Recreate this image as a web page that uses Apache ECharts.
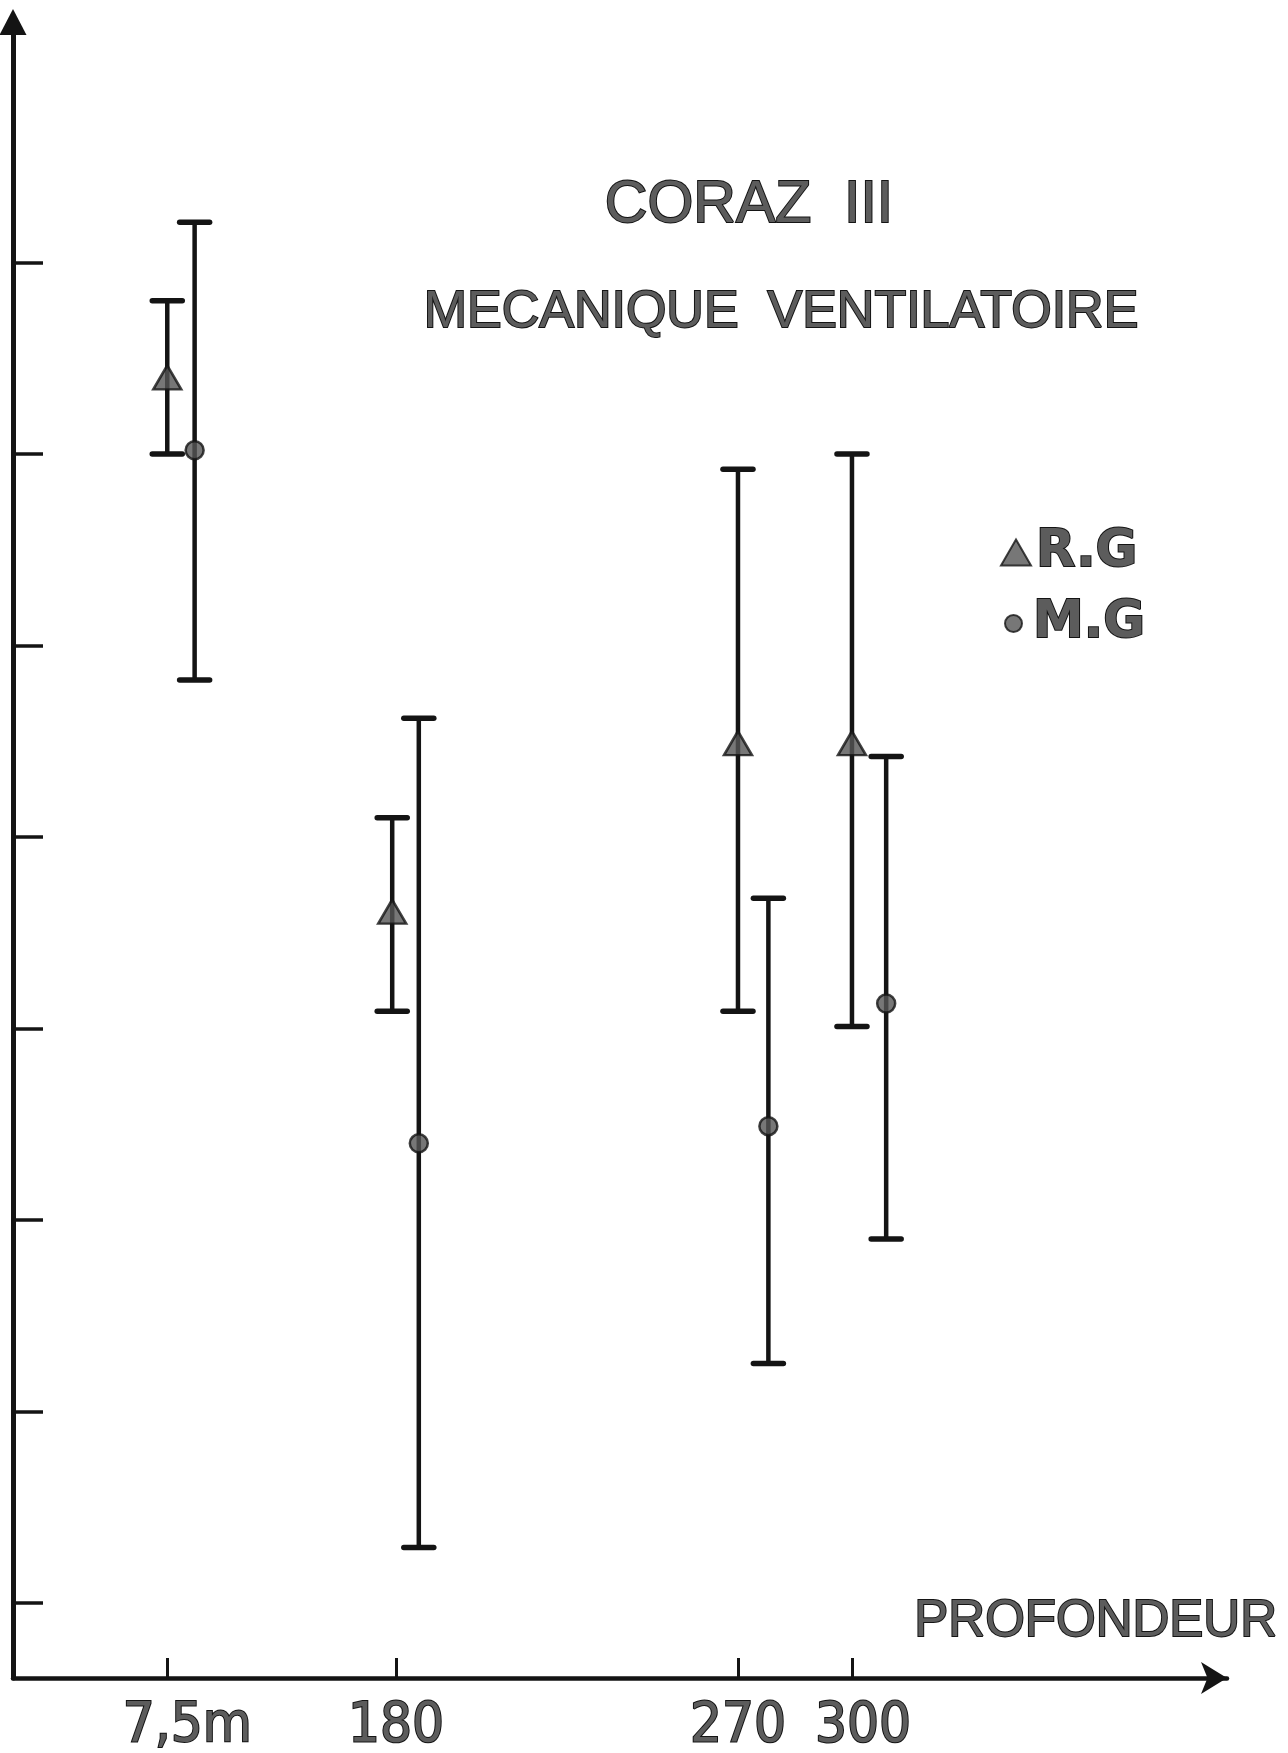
<!DOCTYPE html>
<html>
<head>
<meta charset="utf-8">
<title>CORAZ III - Mecanique ventilatoire</title>
<script src="https://cdn.jsdelivr.net/npm/echarts@6/dist/echarts.min.js"></script>
<style>
  html, body { margin: 0; padding: 0; background: #fff; }
  #chart { width: 1288px; height: 1753px; }
</style>
</head>
<body>
<div id="chart"></div>
<script>
// depth axis is broken below 180 m, so 7,5 m sits at a conventional position
const depthLabels = ['7,5m', '180', '270', '300']
const depthPos = [119.8, 180, 270, 300]

// R.G (triangles)
const rgX = [119.8, 179, 270, 300]
const rgMean = [7.40, 4.61, 5.49, 5.49]
const rgLow = [7.00, 4.09, 4.09, 4.01]
const rgHigh = [7.80, 5.10, 6.92, 7.00]

// M.G (dots)
const mgX = [127, 186, 278, 309]
const mgMean = [7.02, 3.40, 3.49, 4.13]
const mgLow = [5.82, 1.29, 2.25, 2.90]
const mgHigh = [8.21, 5.62, 4.68, 5.42]

// y tick marks (labels are cut off on the original)
const yTicks = [1, 2, 3, 4, 5, 6, 7, 8]

const INK = '#141414'
const FONT = '"Liberation Sans", Arial, sans-serif'
const WIDE = '"DejaVu Sans", sans-serif'
const NARROW = '"DejaVu Sans Condensed", "DejaVu Sans", sans-serif'
const scanText = { color: '#5c5c5c', textBorderColor: INK, textBorderWidth: 2 }

function errorBars(xs, lows, highs) {
  return {
    type: 'custom',
    silent: true,
    z: 3,
    data: xs.map((x, i) => [x, lows[i], highs[i]]),
    renderItem: (params, api) => {
      const lo = api.coord([api.value(0), api.value(1)])
      const hi = api.coord([api.value(0), api.value(2)])
      const half = 15
      const cap = { stroke: INK, lineWidth: 5.5, lineCap: 'round' }
      return {
        type: 'group',
        children: [
          { type: 'line', shape: { x1: hi[0], y1: hi[1], x2: lo[0], y2: lo[1] }, style: { stroke: INK, lineWidth: 4.5 } },
          { type: 'line', shape: { x1: hi[0] - half, y1: hi[1], x2: hi[0] + half, y2: hi[1] }, style: cap },
          { type: 'line', shape: { x1: lo[0] - half, y1: lo[1], x2: lo[0] + half, y2: lo[1] }, style: cap },
        ],
      }
    },
  }
}

const chart = echarts.init(document.getElementById('chart'))

chart.setOption({
  backgroundColor: '#fff',
  animation: false,
  title: [
    {
      text: 'CORAZ  III',
      left: 744, top: 171, textAlign: 'center',
      textStyle: { fontFamily: FONT, fontSize: 59, fontWeight: 'normal', ...scanText },
    },
    {
      text: 'MECANIQUE  VENTILATOIRE',
      left: 776, top: 282, textAlign: 'center',
      textStyle: { fontFamily: FONT, fontSize: 52, fontWeight: 'normal', ...scanText },
    },
  ],
  legend: [
    {
      data: [{ name: 'R.G', icon: 'triangle' }],
      left: 995, top: 521,
      itemWidth: 30, itemHeight: 26,
      selectedMode: false,
      textStyle: { fontFamily: WIDE, fontSize: 51, fontWeight: 'bold', ...scanText },
    },
    {
      data: [{ name: 'M.G', icon: 'circle' }],
      left: 999, top: 592,
      itemWidth: 17, itemHeight: 17,
      selectedMode: false,
      textStyle: { fontFamily: WIDE, fontSize: 51, fontWeight: 'bold', padding: [0, 0, 0, 6], ...scanText },
    },
  ],
  grid: { left: 13, right: 61, top: 22, bottom: 75, outerBoundsMode: 'none' },
  xAxis: {
    type: 'value',
    min: 79.2,
    max: 398.7,
    splitLine: { show: false },
    name: 'PROFONDEUR',
    nameLocation: 'end',
    nameGap: 50,
    nameTextStyle: {
      fontFamily: FONT, fontSize: 51, align: 'right', verticalAlign: 'bottom',
      padding: [0, 0, 31, 0], ...scanText,
    },
    axisLine: {
      lineStyle: { color: INK, width: 4.5 },
      symbol: ['none', 'arrow'],
      symbolSize: [24, 26],
    },
    axisTick: {
      inside: true, length: 20,
      customValues: depthPos,
      lineStyle: { color: INK, width: 3 },
    },
    axisLabel: {
      customValues: depthPos,
      margin: 20,
      formatter: (v) => {
        const i = depthPos.indexOf(v)
        if (i === 0) return '{first|' + depthLabels[i] + '}'
        if (i === 3) return '{last|' + depthLabels[i] + '}'
        return depthLabels[i]
      },
      fontFamily: NARROW, fontSize: 56,
      ...scanText,
      rich: {
        first: { fontFamily: NARROW, fontSize: 56, padding: [0, 0, 0, 40], ...scanText },
        last: { fontFamily: NARROW, fontSize: 56, padding: [0, 0, 0, 22], ...scanText },
      },
    },
  },
  yAxis: {
    type: 'value',
    min: 0.608,
    max: 9.256,
    splitLine: { show: false },
    axisLine: {
      lineStyle: { color: INK, width: 5 },
      symbol: ['none', 'triangle'],
      symbolSize: [27, 26],
    },
    axisTick: {
      inside: true, length: 30,
      customValues: yTicks,
      lineStyle: { color: INK, width: 3.5 },
    },
    axisLabel: { show: false },
  },
  series: [
    errorBars(rgX, rgLow, rgHigh),
    errorBars(mgX, mgLow, mgHigh),
    {
      name: 'R.G',
      type: 'scatter',
      symbol: 'triangle',
      symbolSize: [28, 24],
      z: 5,
      itemStyle: { color: '#555', borderColor: INK, borderWidth: 2.5 },
      data: rgX.map((x, i) => [x, rgMean[i]]),
    },
    {
      name: 'M.G',
      type: 'scatter',
      symbol: 'circle',
      symbolSize: 18,
      z: 5,
      itemStyle: { color: '#555', borderColor: INK, borderWidth: 2.5 },
      data: mgX.map((x, i) => [x, mgMean[i]]),
    },
  ],
})
</script>
</body>
</html>
